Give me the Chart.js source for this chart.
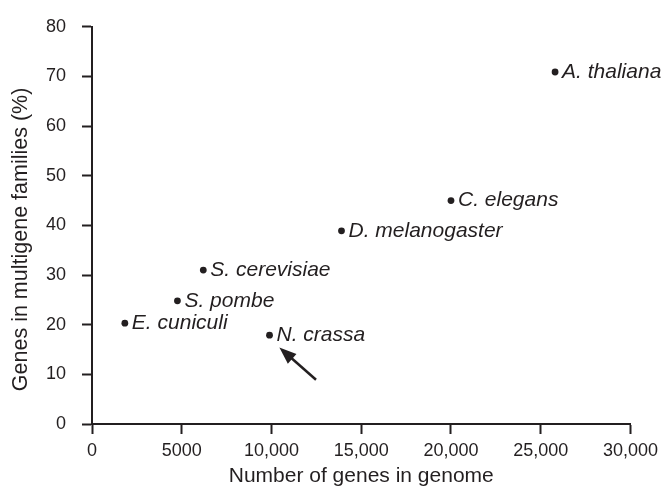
<!DOCTYPE html>
<html>
<head>
<meta charset="utf-8">
<script src="https://cdn.jsdelivr.net/npm/chart.js@4"></script>
<style>
  html, body { margin: 0; padding: 0; background: #fff; }
  #wrap { width: 664px; height: 491px; }
</style>
</head>
<body>
<div id="wrap"><canvas id="c" width="664" height="491"></canvas></div>
<script>
// ---- data ----
const species = ['A. thaliana', 'C. elegans', 'D. melanogaster', 'S. cerevisiae', 'S. pombe', 'E. cuniculi', 'N. crassa'];
const genesInGenome = [25800, 20000, 13900, 6200, 4760, 1830, 9890];
const pctMultigene = [70.9, 45.0, 38.9, 31.0, 24.8, 20.3, 17.9];
const xTickValues = [0, 5000, 10000, 15000, 20000, 25000, 30000];
const xTickLabels = ['0', '5000', '10,000', '15,000', '20,000', '25,000', '30,000'];
const yTickValues = [0, 10, 20, 30, 40, 50, 60, 70, 80];
const yTickLabels = ['0', '10', '20', '30', '40', '50', '60', '70', '80'];
const arrowFrom = [12480, 8.9];
const arrowTo = [10440, 15.4];
const xTitle = 'Number of genes in genome';
const yTitle = 'Genes in multigene families (%)';

const INK = '#231f20';
const FONT = '"Liberation Sans", Arial, Helvetica, sans-serif';

const points = genesInGenome.map((g, i) => ({ x: g, y: pctMultigene[i] }));

const labelPlugin = {
  id: 'pointLabels',
  afterDatasetsDraw(chart) {
    const ctx = chart.ctx;
    const meta = chart.getDatasetMeta(0);
    ctx.save();
    ctx.fillStyle = INK;
    ctx.font = 'italic 21px ' + FONT;
    ctx.textAlign = 'left';
    ctx.textBaseline = 'middle';
    meta.data.forEach((el, i) => {
      ctx.fillText(species[i], el.x + 7, el.y);
    });
    // arrow
    const xs = chart.scales.x, ys = chart.scales.y;
    const x1 = xs.getPixelForValue(arrowFrom[0]), y1 = ys.getPixelForValue(arrowFrom[1]);
    const x2 = xs.getPixelForValue(arrowTo[0]), y2 = ys.getPixelForValue(arrowTo[1]);
    const ang = Math.atan2(y2 - y1, x2 - x1);
    const headLen = 17, headHalf = 6.5;
    const bx = x2 - headLen * Math.cos(ang), by = y2 - headLen * Math.sin(ang);
    ctx.strokeStyle = INK;
    ctx.lineWidth = 2.5;
    ctx.beginPath();
    ctx.moveTo(x1, y1);
    ctx.lineTo(bx + 3 * Math.cos(ang), by + 3 * Math.sin(ang));
    ctx.stroke();
    ctx.beginPath();
    ctx.moveTo(x2, y2);
    ctx.lineTo(bx + headHalf * Math.sin(ang), by - headHalf * Math.cos(ang));
    ctx.lineTo(bx - headHalf * Math.sin(ang), by + headHalf * Math.cos(ang));
    ctx.closePath();
    ctx.fill();
    // y-axis title (sits slightly below the axis centre in the reference)
    const area = chart.chartArea;
    const cy = (area.top + area.bottom) / 2 + 14;
    ctx.translate(26.5, cy);
    ctx.rotate(-Math.PI / 2);
    ctx.font = '21.5px ' + FONT;
    ctx.textAlign = 'center';
    ctx.textBaseline = 'alphabetic';
    ctx.fillText(yTitle, 0, 0);
    ctx.restore();
  }
};

new Chart(document.getElementById('c'), {
  type: 'scatter',
  data: {
    datasets: [{
      data: points,
      backgroundColor: INK,
      borderColor: INK,
      pointRadius: 3.4,
      pointHoverRadius: 3.4,
      borderWidth: 0
    }]
  },
  options: {
    responsive: false,
    animation: false,
    events: [],
    layout: { padding: { left: 0, right: 32, top: 12, bottom: 0 } },
    plugins: { legend: { display: false }, tooltip: { enabled: false } },
    scales: {
      x: {
        type: 'linear',
        min: 0, max: 30000,
        afterBuildTicks(scale) { scale.ticks = xTickValues.map(v => ({ value: v })); },
        afterFit(scale) { scale.height = 67; },
        ticks: {
          color: INK,
          font: { family: FONT, size: 18 },
          padding: 6,
          maxRotation: 0,
          autoSkip: false,
          callback: (v) => xTickLabels[xTickValues.indexOf(v)]
        },
        grid: { drawOnChartArea: false, drawTicks: true, tickLength: 10, tickWidth: 2, tickColor: INK },
        border: { display: true, color: INK, width: 2 },
        title: { display: true, text: xTitle, color: INK, font: { family: FONT, size: 21 }, padding: { top: 0, bottom: 2 } }
      },
      y: {
        type: 'linear',
        min: 0, max: 80,
        afterBuildTicks(scale) { scale.ticks = yTickValues.map(v => ({ value: v })); },
        afterFit(scale) { scale.width = 92; },
        ticks: {
          color: INK,
          font: { family: FONT, size: 18 },
          padding: 16,
          autoSkip: false,
          callback: (v) => yTickLabels[yTickValues.indexOf(v)]
        },
        grid: { drawOnChartArea: false, drawTicks: true, tickLength: 10, tickWidth: 2, tickColor: INK },
        border: { display: true, color: INK, width: 2 },
        title: { display: false }
      }
    }
  },
  plugins: [labelPlugin]
});
</script>
</body>
</html>
